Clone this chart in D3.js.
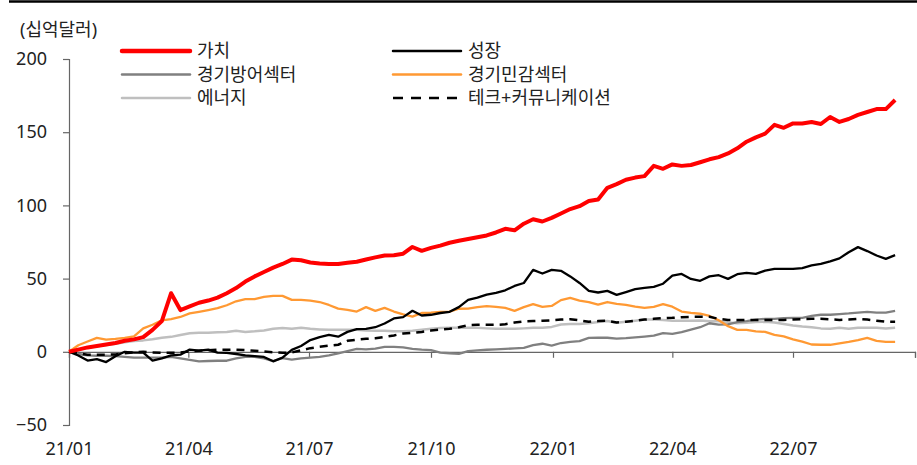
<!DOCTYPE html>
<html>
<head>
<meta charset="utf-8">
<script src="https://cdn.jsdelivr.net/npm/d3@7"></script>
<style>
  body { margin: 0; background: #fff; }
  svg { display: block; font-family: "Noto Sans", "Noto Sans CJK KR", sans-serif; }
</style>
</head>
<body>
<div id="chart"></div>
<script>
// weekly cumulative flows, bn USD, starting first week of 2021
var startDate = new Date(2021, 0, 1);

var value = [0,1.5,3,4,5,6,7.5,8.5,10,15,21,40,28.5,31,33.5,35,37,40,43.5,48,51.5,54.5,57.5,60,63,62.5,61,60.3,60,60,60.8,61.5,63,64.5,65.8,66,67,71.6,69,71,72.5,74.5,75.8,77,78.3,79.5,81.5,84,83,87.5,90.5,89,91.5,94.5,97.5,99.5,103,104,112,114.5,117.5,119,120,127,125,128,127,127.6,129.5,131.5,133,135.5,139,143.5,146.5,149,155,153,156,156,157,155.6,160.4,157,159,161.8,163.8,165.8,165.8,172];
var growth = [0,-2.5,-6,-5,-7,-3,0,-0.5,-0.5,-6,-4.5,-2.5,-2,1.5,0.8,1.5,-0.5,-0.7,-1.5,-2.5,-3,-3.5,-6.5,-4,1.3,4,8,10,11.5,10.3,13.6,15.5,15.7,16.8,19.3,22.8,23.7,28,24.8,25.3,26.5,27.3,30.5,35.5,37,39,40.3,42,45,47,56,53.5,56,55.3,51.5,47,41.6,40.5,41.6,38.9,40.8,42.8,43.7,44.4,46.5,52,53.2,49.8,48.5,51.5,52.3,49.8,53,53.9,53.2,55.5,56.6,56.6,56.6,57.2,59,60,61.8,63.8,68,71.5,68.8,65.8,63.5,66];
var defensive = [0,-1.5,-2.5,-2.7,-2.7,-3,-3.5,-4,-4,-4,-4,-3.4,-4.5,-5.5,-6.5,-6.3,-6.1,-6.1,-4.5,-3.4,-3.4,-4.5,-6.3,-4.3,-5.3,-4.5,-4,-3.4,-2.5,-1,0.5,2,1.6,2.2,3.4,3.3,3,2,1.5,1.2,-0.5,-1,-1.4,0.5,1,1.4,1.7,2,2.3,2.7,4.5,5.5,4.2,6,6.8,7.3,9.5,9.6,9.6,9,9.3,9.8,10.4,11,12.8,12.3,13.5,15.2,16.8,19.5,18.5,18.8,20.3,21,22,22.5,22.5,23,23.2,23.2,24.5,25.3,25.3,25.8,26.2,26.8,27.3,26.8,26.8,28];
var cyclical = [0,4.5,7,9.5,8.3,8.8,9.5,10.5,16,18.5,21.5,22.3,23.8,26.2,27.3,28.5,29.8,31.8,34.5,36,36,37.5,38.2,38.2,35.5,35.5,35,34,32,29.5,28.7,27.5,30.5,28,30,27.5,25.5,24,26.5,26.8,27.3,27.5,29.4,29.5,30.5,31.2,30.7,30,28,30.5,32.5,30.7,31.3,35.3,36.8,35,34,32.2,34,32.8,32,30.8,30,30.7,32.5,30.8,27.5,26.6,26,24.5,21.5,17.5,15,15,14,13.6,11.6,10.5,8.5,7,5,4.8,4.8,5.8,6.8,8,9.5,7.5,6.8,6.8];
var energy = [0,1.5,2.8,3.8,4.6,5.5,6.5,7.3,7.8,8.5,9.6,10.2,11.5,12.7,13,13,13.3,13.6,14.3,13.6,14,14.6,15.7,16.2,15.7,16.4,15.7,15.3,15,15,15,15,14.5,14.3,14.3,14,14,14.3,15,15.7,16.2,16.4,16.4,16.4,16.4,16,15.7,15.7,15.7,16,16.4,16.4,17,18.6,19,19,19.5,20.3,21,19.8,20.5,21.2,22,22,21.7,21.2,21.2,21.2,21.3,20.8,21,20,19.5,19.8,20.3,20.5,20,19,18,17.3,16.8,16,15.8,16.4,15.7,16.4,16.4,16.4,15.9,16.4];
var techComm = [0,-1,-2,-2,-2,-1.8,-1,-0.3,0,-0.5,-0.7,-0.7,-0.5,0.3,0.7,1,1.4,1.4,1.4,1.2,0.7,0.3,-0.3,-0.7,-0.5,1,2.5,3.4,4.2,4.8,7.5,8.3,8.9,9.2,10.2,11.2,12.5,13,13.6,14.5,15.2,15.7,16.8,18.2,18.4,18.4,18.4,18.8,20,20.8,21,21.2,21.5,22,22.3,21.5,20.5,21,21.2,20,20.5,21.2,22,22.5,23,23.2,23.6,23.9,23.9,23.9,22.5,21.8,21.8,21.8,21.8,21.8,21.8,21.8,22,22.3,22.5,22.5,22.2,21.8,22,22.5,22,21.2,20.5,20.5];

var seriesNames = ["가치", "성장", "경기방어섹터", "경기민감섹터", "에너지", "테크+커뮤니케이션"];
var yTicks = [-50, 0, 50, 100, 150, 200];

var width = 917, height = 465;
var margin = {left: 69, right: 2, top: 59, bottom: 40};

var svg = d3.select("#chart").append("svg")
    .attr("width", width)
    .attr("height", height);

var dates = value.map(function(d, i) { return d3.timeDay.offset(startDate, i * 7); });
var endDate = new Date(2022, 9, 1);

var x = d3.scaleTime()
    .domain([new Date(2021, 0, 1), endDate])
    .range([margin.left, 915]);

var y = d3.scaleLinear()
    .domain([-50, 200])
    .range([425, margin.top]);

// top rule
svg.append("line")
    .attr("x1", 9).attr("x2", width)
    .attr("y1", 1.5).attr("y2", 1.5)
    .attr("stroke", "#000")
    .attr("stroke-width", 2.5);

svg.append("text")
    .attr("x", 20).attr("y", 30)
    .attr("dy", "0.35em")
    .attr("font-size", "18px")
    .attr("fill", "#222")
    .text("(십억달러)");

// axes
var yAxis = svg.append("g")
    .attr("transform", "translate(" + margin.left + ",0)")
    .call(d3.axisLeft(y).tickValues(yTicks).tickSize(6).tickPadding(16));
yAxis.select(".domain").attr("stroke", "#666").attr("stroke-width", 1.2);
yAxis.selectAll(".tick line").attr("stroke", "#666").attr("stroke-width", 1.2);
yAxis.selectAll("text").attr("font-size", "18px").attr("fill", "#222")
    .style("font-family", "'Noto Sans', sans-serif");

var xAxis = svg.append("g")
    .attr("transform", "translate(0," + y(0) + ")")
    .call(d3.axisBottom(x)
      .ticks(d3.timeMonth.every(3))
      .tickFormat(d3.timeFormat("%y/%m"))
      .tickSize(6)
      .tickSizeOuter(6));
xAxis.select(".domain").attr("stroke", "#666").attr("stroke-width", 1.2);
xAxis.selectAll(".tick line").attr("stroke", "#666").attr("stroke-width", 1.2);
xAxis.selectAll("text")
    .attr("y", y(-50) - y(0) + 24)
    .attr("dy", "0.35em")
    .attr("font-size", "18px")
    .attr("fill", "#222")
    .style("font-family", "'Noto Sans', sans-serif");
// the last quarter tick sits at the axis end and carries no label
xAxis.selectAll(".tick")
    .filter(function(d) { return +d >= +endDate; })
    .select("text").remove();

// lines, back to front
var layers = [
  {name: seriesNames[4], values: energy, color: "#bfbfbf", w: 2.5, dash: null},
  {name: seriesNames[2], values: defensive, color: "#808080", w: 2.3, dash: null},
  {name: seriesNames[3], values: cyclical, color: "#ff9933", w: 2.3, dash: null},
  {name: seriesNames[5], values: techComm, color: "#000", w: 2.5, dash: "8,6"},
  {name: seriesNames[1], values: growth, color: "#000", w: 2.3, dash: null},
  {name: seriesNames[0], values: value, color: "#ff0000", w: 4, dash: null}
];

var line = d3.line()
    .x(function(d, i) { return x(dates[i]); })
    .y(function(d) { return y(d); });

svg.append("g").selectAll("path")
    .data(layers)
  .enter().append("path")
    .attr("d", function(d) { return line(d.values); })
    .attr("fill", "none")
    .attr("stroke", function(d) { return d.color; })
    .attr("stroke-width", function(d) { return d.w; })
    .attr("stroke-dasharray", function(d) { return d.dash; })
    .attr("stroke-linejoin", "round");

// legend
var legendItems = [
  {name: seriesNames[0], color: "#ff0000", w: 4.5, dash: null, col: 0, row: 0},
  {name: seriesNames[1], color: "#000", w: 2.5, dash: null, col: 1, row: 0},
  {name: seriesNames[2], color: "#808080", w: 2.5, dash: null, col: 0, row: 1},
  {name: seriesNames[3], color: "#ff9933", w: 2.5, dash: null, col: 1, row: 1},
  {name: seriesNames[4], color: "#bfbfbf", w: 2.5, dash: null, col: 0, row: 2},
  {name: seriesNames[5], color: "#000", w: 2.5, dash: "10,8", col: 1, row: 2}
];
var colX = [122, 393], rowY = [51, 74.5, 98];

var leg = svg.append("g").selectAll("g")
    .data(legendItems)
  .enter().append("g")
    .attr("transform", function(d) { return "translate(" + colX[d.col] + "," + rowY[d.row] + ")"; });
leg.append("line")
    .attr("x1", 0).attr("x2", 68)
    .attr("stroke", function(d) { return d.color; })
    .attr("stroke-width", function(d) { return d.w; })
    .attr("stroke-dasharray", function(d) { return d.dash; })
    .attr("stroke-linecap", function(d) { return d.dash ? "butt" : "round"; });
leg.append("text")
    .attr("x", 75)
    .attr("dy", "0.35em")
    .attr("font-size", "18px")
    .attr("fill", "#222")
    .text(function(d) { return d.name; });
</script>
</body>
</html>
